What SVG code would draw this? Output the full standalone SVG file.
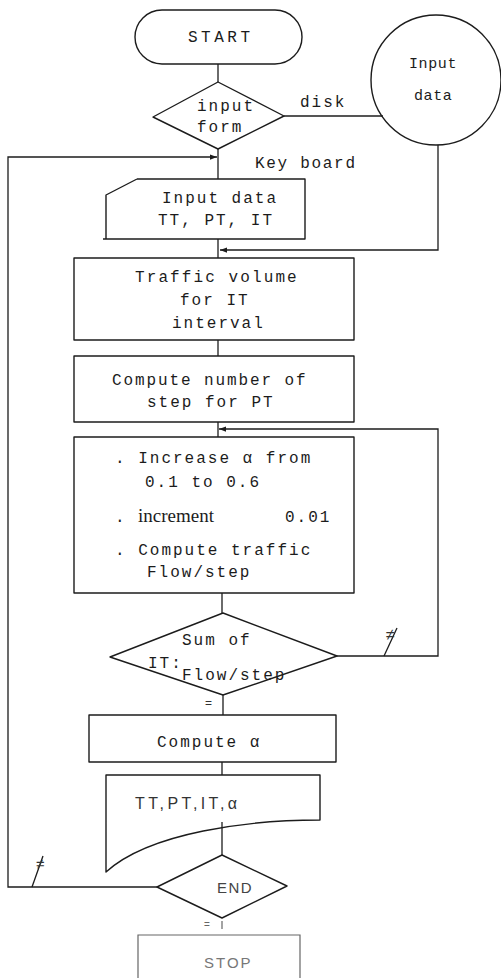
<svg xmlns="http://www.w3.org/2000/svg" width="501" height="978" viewBox="0 0 501 978">
  <style>
    .shape { fill: none; stroke: #1c1c1c; stroke-width: 1.4; stroke-linejoin: round; }
    .faint { fill: none; stroke: #666; stroke-width: 1.2; }
    .wire { fill: none; stroke: #1c1c1c; stroke-width: 1.3; }
    .mono { font-family: "Liberation Mono", "DejaVu Sans Mono", monospace; font-size: 16px; letter-spacing: 2px; fill: #1c1c1c; }
    .serif { font-family: "Liberation Serif", "DejaVu Serif", serif; font-size: 19px; fill: #1c1c1c; }
    .sans { font-family: "Liberation Sans", "DejaVu Sans", sans-serif; font-size: 16px; fill: #333; }
    .mark { font-family: "Liberation Sans", "DejaVu Sans", sans-serif; font-size: 12px; fill: #333; }
  </style>
  <defs>
    <marker id="tip" viewBox="0 0 8 8" refX="8" refY="4" markerWidth="7" markerHeight="7" orient="auto" markerUnits="userSpaceOnUse">
      <path d="M0,1 L8,4 L0,7 Z" fill="#1c1c1c"/>
    </marker>
  </defs>

  <rect width="501" height="978" fill="#ffffff"/>

  <!-- connectors -->
  <g id="connectors">
    <line class="wire" x1="218" y1="64" x2="218" y2="82"/>
    <line class="wire" x1="284" y1="116" x2="383" y2="116"/>
    <line class="wire" x1="218" y1="149" x2="218" y2="179"/>
    <polyline class="wire" points="438,145 438,250 220,250" marker-end="url(#tip)"/>
    <line class="wire" x1="218" y1="239" x2="218" y2="258"/>
    <line class="wire" x1="218" y1="340" x2="218" y2="356"/>
    <line class="wire" x1="218" y1="422" x2="218" y2="437"/>
    <polyline class="wire" points="337,656 438,656 438,429 219,429" marker-end="url(#tip)"/>
    <line class="wire" x1="222" y1="593" x2="222" y2="613"/>
    <line class="wire" x1="223" y1="695" x2="223" y2="715"/>
    <line class="wire" x1="222" y1="762" x2="222" y2="775"/>
    <line class="wire" x1="222" y1="822" x2="222" y2="855"/>
    <polyline class="wire" points="157,887 8,887 8,157 217,157" marker-end="url(#tip)"/>
    <line class="faint" x1="222" y1="921" x2="222" y2="929"/>
    <!-- not-equal branch ticks -->
    <line class="wire" x1="384" y1="656" x2="397" y2="628"/>
    <line class="wire" x1="32" y1="887" x2="43" y2="856"/>
    <text class="mono" x="300" y="107">disk</text>
    <text class="mono" x="255" y="168" style="letter-spacing:1.7px">Key board</text>
    <text class="mark" x="386" y="640" style="font-size:16px">≠</text>
    <text class="mark" x="36" y="869" style="font-size:15px">≠</text>
    <text class="mark" x="205" y="707">=</text>
    <text class="mark" x="204" y="928" style="font-size:10px;fill:#666">=</text>
  </g>

  <g id="start">
    <rect class="shape" x="135" y="10" width="167" height="54" rx="27" ry="27"/>
    <text class="mono" x="188" y="42" style="letter-spacing:3.5px">START</text>
  </g>

  <g id="input-form">
    <path class="shape" d="M218,82 L284,116 L218,149 L153,117 Z"/>
    <text class="mono" x="197" y="111">input</text>
    <text class="mono" x="197" y="132">form</text>
  </g>

  <g id="disk-data">
    <ellipse class="shape" cx="436" cy="80" rx="65" ry="65"/>
    <text class="mono" x="409" y="68" style="font-size:15px;letter-spacing:0.6px">Input</text>
    <text class="mono" x="414" y="100" style="font-size:15px;letter-spacing:0.6px">data</text>
  </g>

  <g id="keyboard-input">
    <path class="shape" d="M137,179 L305,179 L305,239 L103,239 M106,239 L106,195 L137,179"/>
    <text class="mono" x="162" y="203">Input data</text>
    <text class="mono" x="158" y="225">TT, PT, IT</text>
  </g>

  <g id="traffic-volume">
    <rect class="shape" x="74" y="258" width="280" height="82"/>
    <text class="mono" x="135" y="282" style="letter-spacing:2.1px">Traffic volume</text>
    <text class="mono" x="180" y="305">for IT</text>
    <text class="mono" x="172" y="328">interval</text>
  </g>

  <g id="step-count">
    <rect class="shape" x="74" y="356" width="280" height="66"/>
    <text class="mono" x="112" y="385" style="letter-spacing:1.9px">Compute number of</text>
    <text class="mono" x="147" y="407">step for PT</text>
  </g>

  <g id="alpha-loop">
    <rect class="shape" x="74" y="437" width="280" height="156"/>
    <text class="mono" x="115" y="463">. Increase α from</text>
    <text class="mono" x="145" y="487">0.1 to 0.6</text>
    <text class="mono" x="115" y="522">.</text>
    <text class="serif" x="138" y="522">increment</text>
    <text class="mono" x="285" y="522">0.01</text>
    <text class="mono" x="115" y="555">. Compute traffic</text>
    <text class="mono" x="147" y="577">Flow/step</text>
  </g>

  <g id="sum-check">
    <path class="shape" d="M223,613 L337,656 L223,695 L110,657 Z"/>
    <text class="mono" x="182" y="645">Sum of</text>
    <text class="mono" x="148" y="668">IT:</text>
    <text class="mono" x="182" y="680">Flow/step</text>
  </g>

  <g id="compute-alpha">
    <rect class="shape" x="89" y="715" width="247" height="47"/>
    <text class="mono" x="157" y="747">Compute α</text>
  </g>

  <g id="output-doc">
    <path class="shape" d="M106,872 L106,775 L320,775 L320,820 C250,820 150,832 106,872 Z"/>
    <text class="sans" x="135" y="809" style="letter-spacing:3.4px">TT,PT,IT,α</text>
  </g>

  <g id="end-check">
    <path class="shape" d="M222,855 L287,886 L222,918 L157,887 Z"/>
    <text class="sans" x="217" y="893" style="font-size:15px;letter-spacing:1.5px;fill:#444">END</text>
  </g>

  <g id="stop">
    <path class="faint" d="M138,978 L138,935 L300,935 L300,978"/>
    <text class="sans" x="204" y="968" style="font-size:15px;letter-spacing:2px;fill:#777">STOP</text>
  </g>
</svg>
